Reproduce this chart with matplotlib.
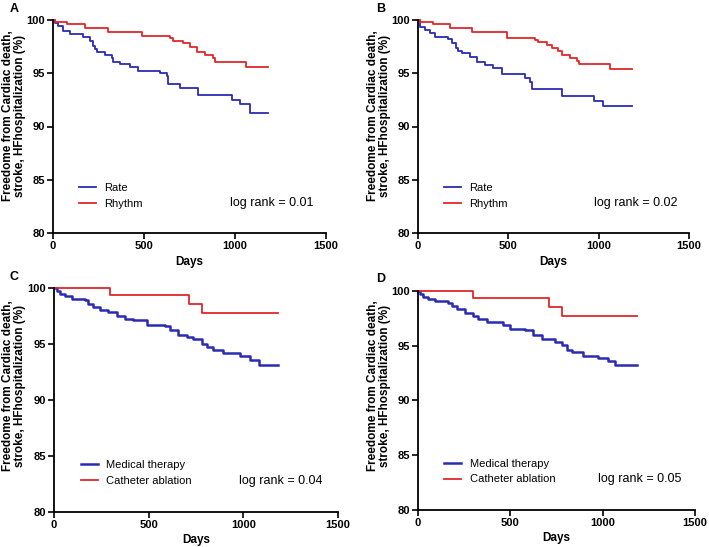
import matplotlib.pyplot as plt

plt.rcParams['font.family'] = ['Liberation Sans', 'DejaVu Sans']

# panel A
a_rate_days = [0, 11, 29, 57, 93, 167, 203, 218, 231, 240, 286, 322, 332, 368, 423, 469, 588, 625, 634, 698, 799, 982, 1027, 1082, 1184]
a_rate_vals = [100, 99.7, 99.4, 99.0, 98.65, 98.4, 98.0, 97.6, 97.3, 97.0, 96.7, 96.4, 96.1, 95.9, 95.6, 95.2, 95.0, 94.7, 94.0, 93.6, 92.95, 92.5, 92.1, 91.3, 91.3]
a_rhythm_days = [0, 11, 75, 176, 304, 487, 643, 661, 716, 753, 789, 835, 881, 890, 1060, 1184]
a_rhythm_vals = [100, 99.8, 99.6, 99.28, 98.9, 98.47, 98.28, 98.03, 97.81, 97.5, 96.96, 96.71, 96.4, 96.05, 95.6, 95.6]

# panel B
b_rate_days = [0, 11, 39, 66, 94, 168, 186, 208, 223, 241, 288, 325, 371, 417, 463, 592, 620, 633, 795, 976, 1026, 1182]
b_rate_vals = [100, 99.37, 99.06, 98.75, 98.44, 98.22, 97.81, 97.4, 97.1, 96.87, 96.56, 96.09, 95.77, 95.52, 94.9, 94.6, 94.2, 93.52, 92.86, 92.4, 91.95, 91.95]
b_rhythm_days = [0, 11, 85, 177, 301, 491, 647, 666, 712, 740, 777, 795, 841, 878, 891, 1063, 1182]
b_rhythm_vals = [100, 99.78, 99.59, 99.22, 98.84, 98.34, 98.12, 97.9, 97.65, 97.4, 97.09, 96.71, 96.46, 96.15, 95.87, 95.4, 95.4]

# panel C
c_med_days = [0, 14, 32, 58, 93, 164, 181, 208, 243, 287, 331, 375, 419, 490, 586, 613, 657, 701, 736, 780, 807, 842, 894, 983, 1035, 1085, 1183]
c_med_vals = [100, 99.7, 99.5, 99.26, 99.02, 98.9, 98.6, 98.3, 98.0, 97.83, 97.47, 97.23, 97.1, 96.73, 96.58, 96.28, 95.8, 95.6, 95.45, 95.03, 94.7, 94.5, 94.2, 93.96, 93.6, 93.1, 93.1]
c_abl_days = [0, 296, 712, 784, 1183]
c_abl_vals = [100, 99.35, 98.6, 97.8, 97.8]

# panel D
d_med_days = [0, 11, 29, 56, 92, 164, 182, 209, 254, 300, 327, 372, 462, 498, 579, 624, 670, 742, 778, 805, 832, 895, 976, 1031, 1066, 1184]
d_med_vals = [100, 99.7, 99.48, 99.24, 99.06, 98.87, 98.63, 98.33, 98.02, 97.72, 97.47, 97.17, 96.86, 96.56, 96.44, 95.95, 95.59, 95.34, 95.04, 94.61, 94.43, 94.06, 93.9, 93.6, 93.28, 93.28]
d_abl_days = [0, 296, 711, 782, 1184]
d_abl_vals = [100, 99.33, 98.55, 97.7, 97.7]

blue = '#2b2bb2'
red = '#e0262a'
ylab = 'Freedome from Cardiac death,\nstroke, HFhospitalization (%)'

W, H = 709, 547
fig = plt.figure(figsize=(W / 100, H / 100), dpi=100)

panels = [
    ('A', (53, 20, 273, 213), a_rate_days, a_rate_vals, a_rhythm_days, a_rhythm_vals, 'Rate', 'Rhythm', 'log rank = 0.01', 1.3, (10, 9), (14, 116)),
    ('B', (418, 20, 271, 213), b_rate_days, b_rate_vals, b_rhythm_days, b_rhythm_vals, 'Rate', 'Rhythm', 'log rank = 0.02', 1.3, (376, 9), (379, 116)),
    ('C', (54, 288, 284, 224), c_med_days, c_med_vals, c_abl_days, c_abl_vals, 'Medical therapy', 'Catheter ablation', 'log rank = 0.04', 1.8, (10, 277), (14, 386)),
    ('D', (418, 291, 277, 219), d_med_days, d_med_vals, d_abl_days, d_abl_vals, 'Medical therapy', 'Catheter ablation', 'log rank = 0.05', 1.8, (376, 279), (379, 386)),
]

for letter, (l, t, w, h), bd, bv, rd, rv, bl, rl, lr, blw, (lx, ly), (yx, yy) in panels:
    ax = fig.add_axes([l / W, (H - t - h) / H, w / W, h / H])
    ax.step(bd, bv, where='post', color=blue, lw=blw, label=bl, clip_on=False)
    ax.step(rd, rv, where='post', color=red, lw=1.3, label=rl, clip_on=False)
    ax.set_xlim(0, 1500)
    ax.set_ylim(80, 100)
    ax.set_xticks([0, 500, 1000, 1500])
    ax.set_yticks([80, 85, 90, 95, 100])
    for s in ['top', 'right']:
        ax.spines[s].set_visible(False)
    for s in ['left', 'bottom']:
        ax.spines[s].set_linewidth(1.3)
    ax.tick_params(length=4, width=1.2, labelsize=8, pad=2)
    for lab in ax.get_xticklabels() + ax.get_yticklabels():
        lab.set_fontweight('bold')
    ax.set_xlabel('Days', fontsize=8.5, fontweight='bold', labelpad=3)
    fig.text(yx / W, 1 - yy / H, ylab, rotation=90, ha='center', va='center',
             multialignment='center', fontsize=8.5, fontweight='bold', linespacing=1.1)
    ax.legend(loc='center left', bbox_to_anchor=(0.075, 0.175), frameon=False,
              fontsize=8, handlelength=1.5, handletextpad=0.8, labelspacing=0.5, borderpad=0)
    ax.text(0.65, 0.14, lr, transform=ax.transAxes, fontsize=9, va='center')
    fig.text(lx / W, 1 - ly / H, letter, fontsize=9, fontweight='bold', va='center')

fig.savefig('out.png', dpi=100)
